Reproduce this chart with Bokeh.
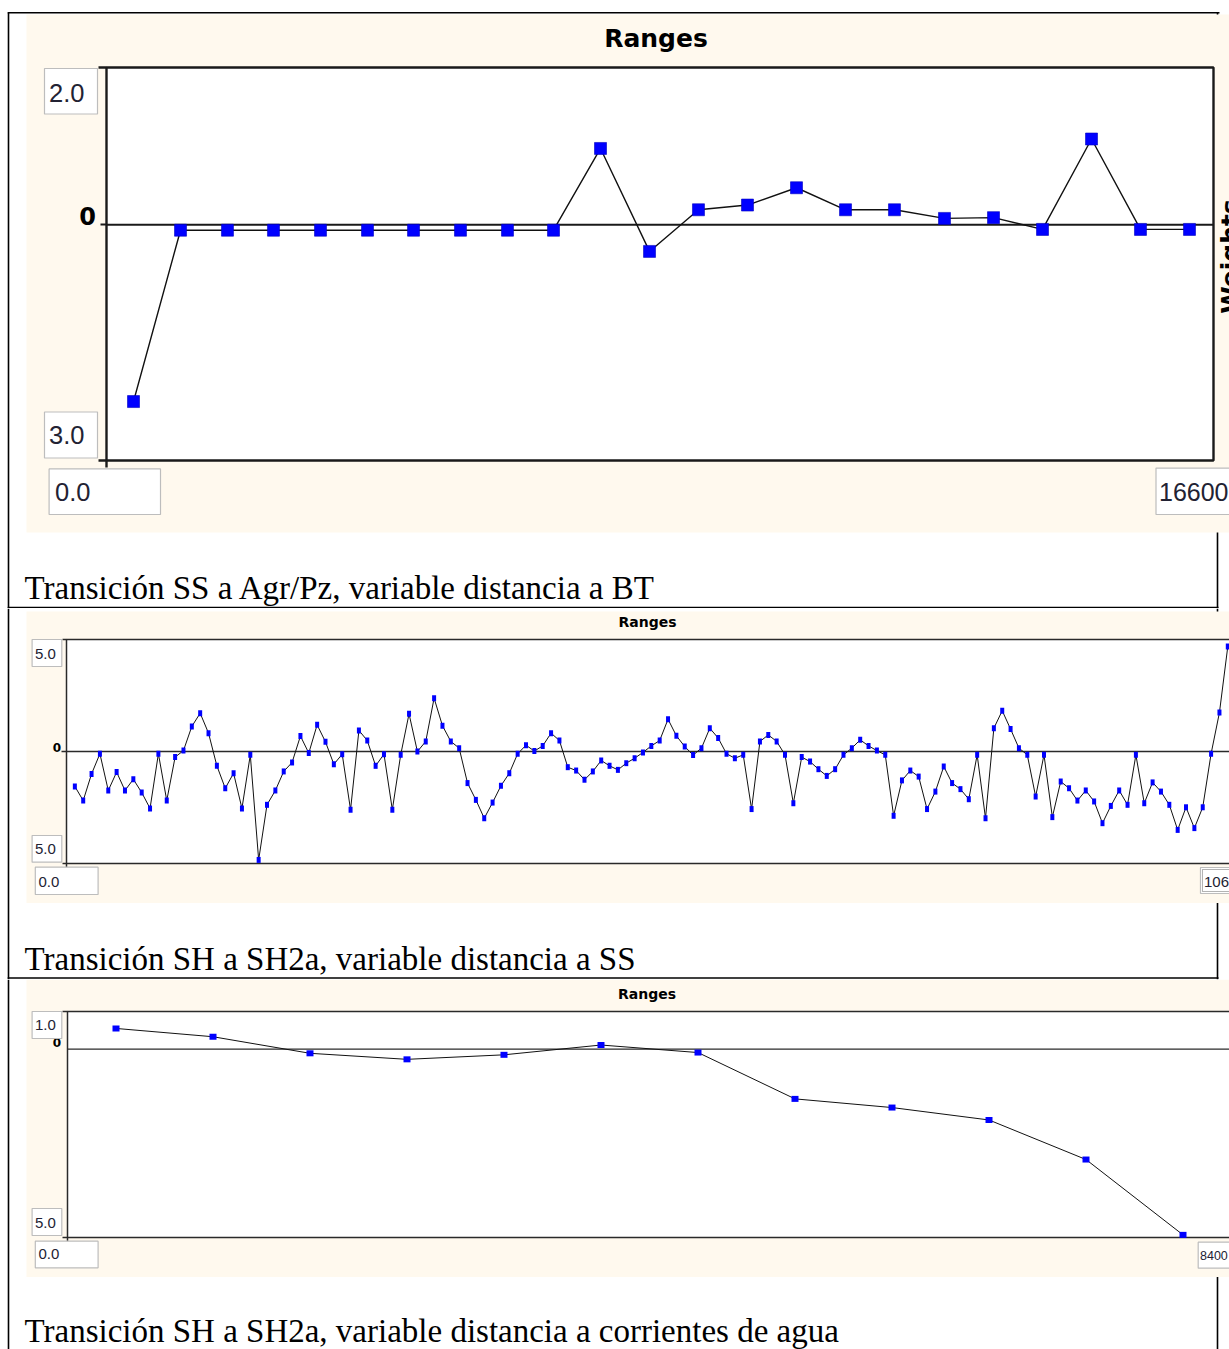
from bokeh.plotting import figure
from bokeh.models import Range1d
from bokeh.layouts import column
from bokeh.core.properties import value
from bokeh.embed import file_html
from bokeh.resources import INLINE

# ------------------------------------------------------------------ data
# Panel 1: Transición SS a Agr/Pz, variable distancia a BT  (x: distance 0..16600, y: weight -3..2)
x1 = [405, 1110, 1814, 2504, 3209, 3914, 4604, 5308, 6013, 6703, 7408, 8143,
      8877, 9612, 10347, 11082, 11816, 12566, 13301, 14036, 14771, 15505, 16240]
y1 = [-2.25, -0.07, -0.07, -0.07, -0.07, -0.07, -0.07, -0.07, -0.07, -0.07, 0.97, -0.34,
      0.19, 0.25, 0.47, 0.19, 0.19, 0.08, 0.09, -0.06, 1.09, -0.06, -0.06]

# Panel 2: Transición SH a SH2a, variable distancia a SS  (x: range index, y: weight -5..5)
y2 = [-1.56, -2.19, -1.00, -0.10, -1.74, -0.92, -1.74, -1.24, -1.83, -2.54,
      -0.10, -2.19, -0.25, 0.04, 1.12, 1.71, 0.82, -0.64, -1.64, -0.97,
      -2.54, -0.15, -4.84, -2.38, -1.74, -0.89, -0.49, 0.69, -0.07, 1.19,
      0.43, -0.57, -0.12, -2.60, 0.94, 0.49, -0.64, -0.12, -2.60, -0.15,
      1.68, 0.00, 0.45, 2.38, 1.15, 0.45, 0.15, -1.41, -2.16, -2.98,
      -2.28, -1.53, -0.97, -0.10, 0.28, 0.02, 0.25, 0.82, 0.49, -0.70,
      -0.85, -1.26, -0.89, -0.40, -0.64, -0.82, -0.52, -0.30, -0.04, 0.25,
      0.49, 1.44, 0.70, 0.22, -0.16, 0.15, 1.04, 0.60, -0.10, -0.30,
      -0.15, -2.57, 0.45, 0.74, 0.45, -0.15, -2.31, -0.25, -0.45, -0.79,
      -1.09, -0.79, -0.15, 0.15, 0.52, 0.25, 0.04, -0.15, -2.87, -1.29,
      -0.85, -1.12, -2.57, -1.79, -0.67, -1.41, -1.68, -2.13, -0.15, -2.98,
      1.04, 1.82, 1.00, 0.15, -0.15, -2.01, -0.15, -2.93, -1.34, -1.64,
      -2.19, -1.74, -2.23, -3.20, -2.43, -1.74, -2.38, -0.15, -2.31, -1.38,
      -1.79, -2.38, -3.50, -2.49, -3.42, -2.49, -0.10, 1.74, 4.69]
x2 = list(range(1, len(y2) + 1))

# Panel 3: Transición SH a SH2a, variable distancia a corrientes de agua (x: 0..8400, y: -5..1)
x3 = [350, 1050, 1750, 2450, 3150, 3850, 4550, 5250, 5950, 6650, 7350, 8050]
y3 = [0.55, 0.33, -0.11, -0.27, -0.15, 0.11, -0.09, -1.32, -1.55, -1.88, -2.93, -4.93]

titles = ["Ranges", "Ranges", "Ranges"]
captions = ["Transición SS a Agr/Pz, variable distancia a BT",
            "Transición SH a SH2a, variable distancia a SS",
            "Transición SH a SH2a, variable distancia a corrientes de agua"]
ylab_top = ["2.0", "5.0", "1.0"]
ylab_bot = ["3.0", "5.0", "5.0"]
xlab_min = ["0.0", "0.0", "0.0"]
xlab_max = ["16600", "106", "8400"]
zero_lab = "0"
side_lab = "Weights"

# ------------------------------------------------------------------ layout helpers
PL, PR = 0, 1229          # page x of canvas left / right
W = PR - PL
BEIGE = "#FFF9EE"
BOXTXT = "#222233"


def make_fig(top, height, xmap, ymap):
    v0, p0, v1, p1 = xmap
    kx = (v1 - v0) / (p1 - p0)
    xr = Range1d(v0 + (PL - p0) * kx, v0 + (PR - p0) * kx)
    b0, pb, t0, pt = ymap
    ky = (t0 - b0) / (pb - pt)
    bottom = top + height
    yr = Range1d(b0 + (pb - bottom) * ky, b0 + (pb - top) * ky)
    p = figure(width=W, height=height, x_range=xr, y_range=yr,
               output_backend="svg", toolbar_location=None,
               x_axis_type=None, y_axis_type=None,
               min_border=0, min_border_left=0, min_border_right=0,
               min_border_top=0, min_border_bottom=0,
               outline_line_color=None, background_fill_color="white",
               border_fill_color="white")
    p.extra_x_ranges = {"px": Range1d(PL, PR)}
    p.extra_y_ranges = {"px": Range1d(bottom, top)}
    return p


PX = dict(x_range_name="px", y_range_name="px")


def seg(p, x0, y0, x1_, y1_, color="black", width=1.5):
    p.segment(x0=[x0], y0=[y0], x1=[x1_], y1=[y1_], line_color=color,
              line_width=width, **PX)


def txt(p, x, base, s, size, font="DejaVu Sans", bold=False, align="left",
        color="black", angle=0.0):
    # text is anchored at its vertical middle; shift so the baseline sits at `base`
    p.text(x=[x], y=[base - 0.34 * size], text=[s], text_font=value(font),
           text_font_size=value(f"{size}px"),
           text_font_style="bold" if bold else "normal", angle=angle,
           text_align=align, text_baseline="middle", text_color=color, **PX)


def box(p, l, r, t, b, s, tx, ty, size, dotted=False):
    p.quad(left=[l], right=[r], top=[t], bottom=[b], fill_color="white",
           line_color="#BDBDBD", line_width=1.2, **PX)
    if dotted:
        p.quad(left=[l + 2], right=[r - 2], top=[t + 2], bottom=[b - 2],
               fill_color=None, line_color="#666666", line_width=1,
               line_dash="1 1", **PX)
    txt(p, tx, ty, s, size, font="Liberation Sans", color=BOXTXT)


def borders(p, top, bottom, draw_top=False, bottom_line=None):
    seg(p, 8, top, 8, bottom, width=1.6)
    seg(p, 1217, top, 1217, bottom, width=1.6)
    if draw_top:
        seg(p, 7.2, 12.3, 1219, 12.3, width=1.6)
    if bottom_line is not None:
        seg(p, 7.2, bottom_line, 1218, bottom_line, width=1.6)


# ------------------------------------------------------------------ panel 1
T1, H1 = 0, 608
p1 = make_fig(T1, H1, (0, 106, 16600, 1213), (-3, 460, 2, 67))
borders(p1, 12, T1 + H1, draw_top=True, bottom_line=607)
p1.quad(left=[26], right=[1240], top=[14], bottom=[532], fill_color=BEIGE,
        line_color=None, **PX)
p1.quad(left=[0], right=[16600], bottom=[-3], top=[2], fill_color="white",
        line_color="#1A1A1A", line_width=2.4)
seg(p1, 98, 67, 106, 67, "#1A1A1A", 2.4)
seg(p1, 98, 460, 106, 460, "#1A1A1A", 2.4)
seg(p1, 106, 460, 106, 467, "#1A1A1A", 2.4)
seg(p1, 100, 224, 106, 224, "#1A1A1A", 2)
p1.segment(x0=[0], y0=[0], x1=[16600], y1=[0], line_color="#1A1A1A", line_width=2)
p1.line(x1, y1, line_color="#111111", line_width=1.4)
p1.rect(x1, y1, width=12, height=12, width_units="screen", height_units="screen",
        fill_color="#0000FF", line_color="#0000C0", line_width=0.6)
txt(p1, 655.5, 46.6, titles[0], 25, bold=True, align="center")
txt(p1, 95.5, 223.5, zero_lab, 24, bold=True, align="right")
box(p1, 44, 97, 68, 113.5, ylab_top[0], 48.5, 101, 25.5)
box(p1, 44, 97, 411.5, 457.5, ylab_bot[0], 48.5, 443.5, 25.5)
box(p1, 48.6, 160, 468.4, 514, xlab_min[0], 54.5, 500, 25.5)
box(p1, 1155.5, 1240, 467.6, 514, xlab_max[0], 1158.5, 500, 25)
txt(p1, 1229.6, 264.5, side_lab, 25, bold=True, align="center", angle=1.5708)
txt(p1, 24, 598.5, captions[0], 33, font="Liberation Serif")

# ------------------------------------------------------------------ panel 2
T2, H2 = 608, 371
p2 = make_fig(T2, H2, (0, 66, 139, 1227.3), (-5, 863, 5, 639))
borders(p2, T2, T2 + H2, bottom_line=977.5)
p2.quad(left=[26], right=[1240], top=[611], bottom=[902.5], fill_color=BEIGE,
        line_color=None, **PX)
p2.quad(left=[0], right=[141], bottom=[-5], top=[5], fill_color="white",
        line_color="#2A2A2A", line_width=1.5)
seg(p2, 62, 639, 66, 639, "#2A2A2A", 1.5)
seg(p2, 62, 863, 66, 863, "#2A2A2A", 1.5)
seg(p2, 66, 863, 66, 867, "#2A2A2A", 1.5)
seg(p2, 61, 751, 66, 751, "#2A2A2A", 1.3)
p2.segment(x0=[0], y0=[0], x1=[141], y1=[0], line_color="#2A2A2A", line_width=1.3)
p2.line(x2, y2, line_color="#111111", line_width=1)
p2.rect(x2, y2, width=4, height=6, width_units="screen", height_units="screen",
        fill_color="#0000FF", line_color=None)
txt(p2, 647, 626.7, titles[1], 14, bold=True, align="center")
txt(p2, 60.5, 750.7, zero_lab, 12, bold=True, align="right")
box(p2, 31.6, 61.3, 639, 666, ylab_top[1], 34.5, 658.3, 15)
box(p2, 31.6, 61.3, 835, 861.7, ylab_bot[1], 34.5, 853.5, 15)
box(p2, 34.8, 97.6, 866.7, 894, xlab_min[1], 38, 886.7, 15)
box(p2, 1200, 1240, 867, 893, xlab_max[1], 1203.5, 886.5, 15, dotted=True)
txt(p2, 24, 970, captions[1], 33, font="Liberation Serif")

# ------------------------------------------------------------------ panel 3
T3, H3 = 979, 370
p3 = make_fig(T3, H3, (0, 67, 8400, 1231), (-5, 1237, 1, 1011))
borders(p3, T3, T3 + H3)
p3.quad(left=[26], right=[1240], top=[979], bottom=[1276.5], fill_color=BEIGE,
        line_color=None, **PX)
p3.quad(left=[0], right=[8400], bottom=[-5], top=[1], fill_color="white",
        line_color="#2A2A2A", line_width=1.5)
seg(p3, 62, 1011, 67, 1011, "#2A2A2A", 1.5)
seg(p3, 62, 1237, 67, 1237, "#2A2A2A", 1.5)
seg(p3, 67, 1237, 67, 1241, "#2A2A2A", 1.5)
p3.segment(x0=[0], y0=[0], x1=[8400], y1=[0], line_color="#2A2A2A", line_width=1.3)
p3.line(x3, y3, line_color="#111111", line_width=1)
p3.rect(x3, y3, width=7, height=6, width_units="screen", height_units="screen",
        fill_color="#0000FF", line_color=None)
txt(p3, 646.5, 998.5, titles[2], 14, bold=True, align="center")
txt(p3, 60.5, 1046.5, zero_lab, 12, bold=True, align="right")
box(p3, 31.6, 61.3, 1011, 1038, ylab_top[2], 34.5, 1030, 15)
box(p3, 31.6, 61.3, 1208, 1235, ylab_bot[2], 34.5, 1227.3, 15)
box(p3, 34.8, 97.6, 1240.7, 1267.3, xlab_min[2], 38, 1258.3, 15)
box(p3, 1197.7, 1240, 1241.7, 1267.7, xlab_max[2], 1199.5, 1259, 12.5)
txt(p3, 24, 1341.5, captions[2], 33, font="Liberation Serif")

layout = column(p1, p2, p3, spacing=0)
open("out.html", "w").write(file_html(layout, INLINE))
